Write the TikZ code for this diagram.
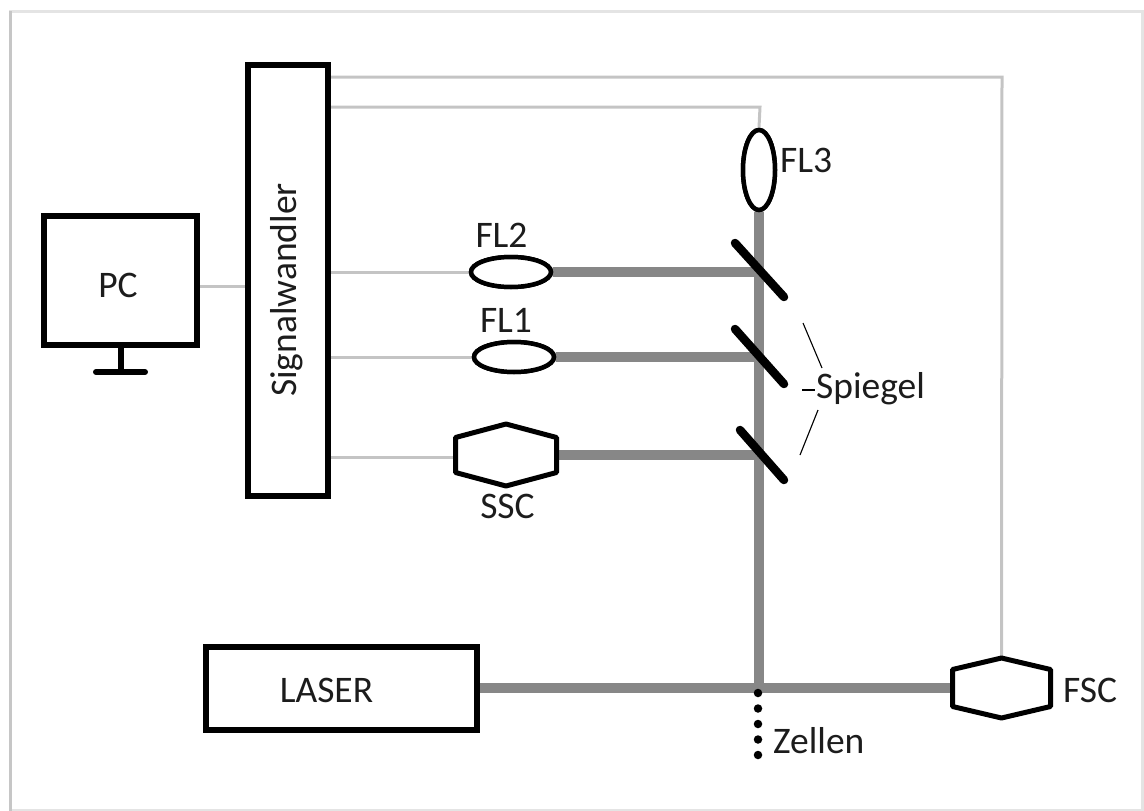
\documentclass[tikz,border=0pt]{standalone}
\usepackage{fontspec}
\setmainfont{Carlito}
\usetikzlibrary{shapes.geometric,calc}
\definecolor{beamc}{HTML}{878787}
\definecolor{wirec}{HTML}{C4C4C4}
\definecolor{inkc}{HTML}{1C1C1C}
\definecolor{framec}{HTML}{C6C6C6}
\definecolor{framelc}{HTML}{E4E4E4}
\begin{document}
\begin{tikzpicture}[x=1pt,y=-1pt,
  font=\fontsize{37.5}{45}\selectfont,
  box/.style={draw=black, line width=6pt, fill=white, inner sep=0pt},
  lens/.style={ellipse, draw=black, line width=4.5pt, fill=white, inner sep=0pt},
  hexbox/.style={inner sep=0pt, outer sep=0pt},
  hexline/.style={draw=black, line width=5pt, fill=white, line join=round},
  wire/.style={draw=wirec, line width=3pt},
  beamline/.style={draw=beamc, line width=10pt},
  mirror/.style={draw=black, line width=8.5pt, line cap=round},
  leader/.style={draw=black, line width=1.1pt},
  lbl/.style={inner sep=0pt, text=inkc},
  standline/.style={draw=black, line width=6pt},
  cellsdots/.style={draw=black, line width=8.5pt, line cap=round, dash pattern=on 0pt off 15.5pt}
]
\useasboundingbox (0,0) rectangle (1144,811);
% frame
\draw[framelc, line width=3pt] (10,811) -- (10,11) -- (1142,11) -- (1142,810) -- (10,810);
\draw[framec, line width=3pt] (10,811) -- (10,11);

% coordinates
\coordinate (w3) at (760,107);
\coordinate (w4) at (1002,77);
\coordinate (cell) at (759,688);
\coordinate (m1) at (759,272);
\coordinate (m2) at (759,357);
\coordinate (m3) at (759,455);

% nodes
\node[box, minimum width=153pt, minimum height=129pt] (pc) at (120.5,280.5) {};
\node[lbl, anchor=base] (pctext) at (118,297) {PC};
\coordinate (standfoot) at (120.5,372);
\coordinate (footl) at (96,372);
\coordinate (footr) at (145,372);

\node[box, minimum width=80pt, minimum height=431pt] (sw) at (288,280.5) {};
\node[lbl, rotate=90] (swtext) at (287,290) {Signalwandler};

\node[box, minimum width=271pt, minimum height=83pt] (laser) at (341.5,688) {};
\node[lbl, anchor=base] (lasertext) at (326.5,702) {LASER};

\node[lens, minimum width=80pt, minimum height=30pt] (fl2) at (511,272) {};
\node[lens, minimum width=80pt, minimum height=30pt] (fl1) at (514,357) {};
\node[lens, minimum width=32pt, minimum height=80pt] (fl3) at (759,170) {};

\node[hexbox, minimum width=101pt, minimum height=62pt] (ssc) at (506,455) {};
\node[hexbox, minimum width=98pt, minimum height=60pt] (fsc) at (1001.5,688) {};

% wires
\draw[wire] (pc.east |- 0,286) -- (sw.west |- 0,286);
\draw[wire] (sw.east |- fl2) -- (fl2.west);
\draw[wire] (sw.east |- fl1) -- (fl1.west);
\draw[wire] (sw.east |- 0,457) -- (ssc.west |- 0,457);
\draw[wire] (sw.east |- w3) -- (w3) -- (fl3.north);
\draw[wire] (sw.east |- w4) -- (w4) -- (fsc.north);

% beams
\draw[beamline] (fl3.south) -- (cell);
\draw[beamline] (laser.east) -- (laser.east -| fsc.west);
\draw[beamline] (fl2.east) -- (m1);
\draw[beamline] (fl1.east) -- (m2);
\draw[beamline] (ssc.east) -- (m3);

% redraw lenses on top
\node[lens, minimum width=80pt, minimum height=30pt] at (fl2) {};
\node[lens, minimum width=80pt, minimum height=30pt] at (fl1) {};
\node[lens, minimum width=32pt, minimum height=80pt] at (fl3) {};

% hexagons
\draw[hexline] (ssc.north) -- ($(ssc.east)+(0,-17.5)$) -- ($(ssc.east)+(0,17.5)$) -- (ssc.south) -- ($(ssc.west)+(0,17.5)$) -- ($(ssc.west)+(0,-17.5)$) -- cycle;
\draw[hexline] (fsc.north) -- ($(fsc.east)+(0,-18.5)$) -- ($(fsc.east)+(0,18.5)$) -- (fsc.south) -- ($(fsc.west)+(0,18.5)$) -- ($(fsc.west)+(0,-18.5)$) -- cycle;

% mirrors
\draw[mirror] ($(m1)+(-24,-29)$) -- ($(m1)+(25,25)$);
\draw[mirror] ($(m2)+(-24,-28)$) -- ($(m2)+(25,27)$);
\draw[mirror] ($(m3)+(-19,-25)$) -- ($(m3)+(25,25)$);

% PC stand
\draw[standline] (pc.south) -- (standfoot);
\draw[standline, line cap=round] (footl) -- (footr);

% cells
\coordinate (z0) at (758,693);
\coordinate (z1) at (758,755.6);
\draw[cellsdots] (z0) -- (z1);

% labels
\node[lbl, anchor=base] (fl2text) at (501.5,247) {FL2};
\node[lbl, anchor=base] (fl1text) at (506,332) {FL1};
\node[lbl, anchor=base west] (fl3text) at (780,172) {FL3};
\node[lbl, anchor=base] (ssctext) at (507.5,518) {SSC};
\node[lbl, anchor=base west] (fsctext) at (1063,702) {FSC};
\node[lbl, anchor=base west] (zellentext) at (773,753) {Zellen};
\node[lbl, anchor=base west] (spiegel) at (816,398) {Spiegel};

% Spiegel leaders
\coordinate (la1) at (803,323);
\coordinate (la2) at (822,368);
\coordinate (lb1) at (802,390);
\coordinate (lb2) at (815,390);
\coordinate (lc1) at (818,410);
\coordinate (lc2) at (800,455);
\draw[leader] (la1) -- (la2);
\draw[leader] (lb1) -- (lb2);
\draw[leader] (lc1) -- (lc2);
\end{tikzpicture}
\end{document}
